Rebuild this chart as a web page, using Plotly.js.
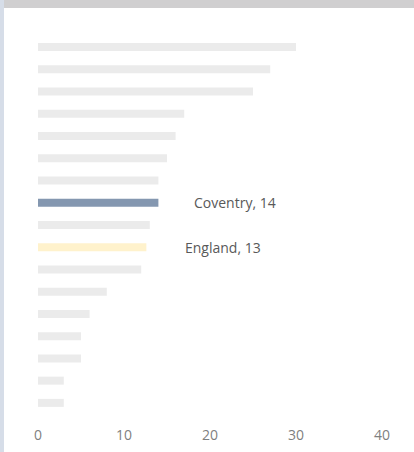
<!DOCTYPE html>
<html>
<head>
<meta charset="utf-8">
<script src="https://cdn.plot.ly/plotly-3.0.1.min.js"></script>
<style>
html,body{margin:0;padding:0;background:#fff;}
#wrap{position:relative;width:414px;height:452px;overflow:hidden;}
#topband{position:absolute;left:0;top:0;width:414px;height:8px;background:#d0cfd0;}
#leftband{position:absolute;left:0;top:0;width:4px;height:452px;background:#d6dde8;z-index:2;}
#chart{position:absolute;left:0;top:0;width:414px;height:452px;}
</style>
</head>
<body>
<div id="wrap">
<div id="chart"></div>
<div id="topband"></div>
<div id="leftband"></div>
</div>
<script>
const areas = ['Area 1','Area 2','Area 3','Area 4','Area 5','Area 6','Area 7','Coventry','Area 9','England','Area 11','Area 12','Area 13','Area 14','Area 15','Area 16','Area 17'];
const values = [30,27,25,17,16,15,14,14,13,12.6,12,8,6,5,5,3,3];
const labels = {'Coventry':'Coventry, 14','England':'England, 13'};
const tickVals = [0,10,20,30,40];

const colors = areas.map(a => a === 'Coventry' ? '#8497b0' : (a === 'England' ? '#fff2cc' : '#ebebeb'));

const annotations = areas.map((a,i) => labels[a] ? {
  x: values[i], y: a, xref:'x', yref:'y',
  text: labels[a], showarrow:false, xanchor:'left',
  xshift: a === 'Coventry' ? 34 : 37,
  font:{family:'Open Sans, sans-serif', size:14, color:'#595959'}
} : null).filter(Boolean);

Plotly.newPlot('chart', [{
  type:'bar', orientation:'h',
  x: values, y: areas,
  marker:{color: colors},
  hoverinfo:'none'
}], {
  width:414, height:452,
  margin:{l:38, r:32, t:36, b:38},
  paper_bgcolor:'#ffffff', plot_bgcolor:'#ffffff',
  bargap:0.64,
  showlegend:false,
  xaxis:{range:[0,40], tickvals:tickVals, showgrid:false, zeroline:false, showline:false,
    ticks:'outside', ticklen:8, tickcolor:'rgba(0,0,0,0)',
    tickfont:{family:'Open Sans, sans-serif', size:14, color:'#7f7f7f'}},
  yaxis:{autorange:'reversed', showticklabels:false, showgrid:false, zeroline:false, showline:false, ticks:''},
  annotations: annotations
}, {staticPlot:true, displayModeBar:false});
</script>
</body>
</html>
